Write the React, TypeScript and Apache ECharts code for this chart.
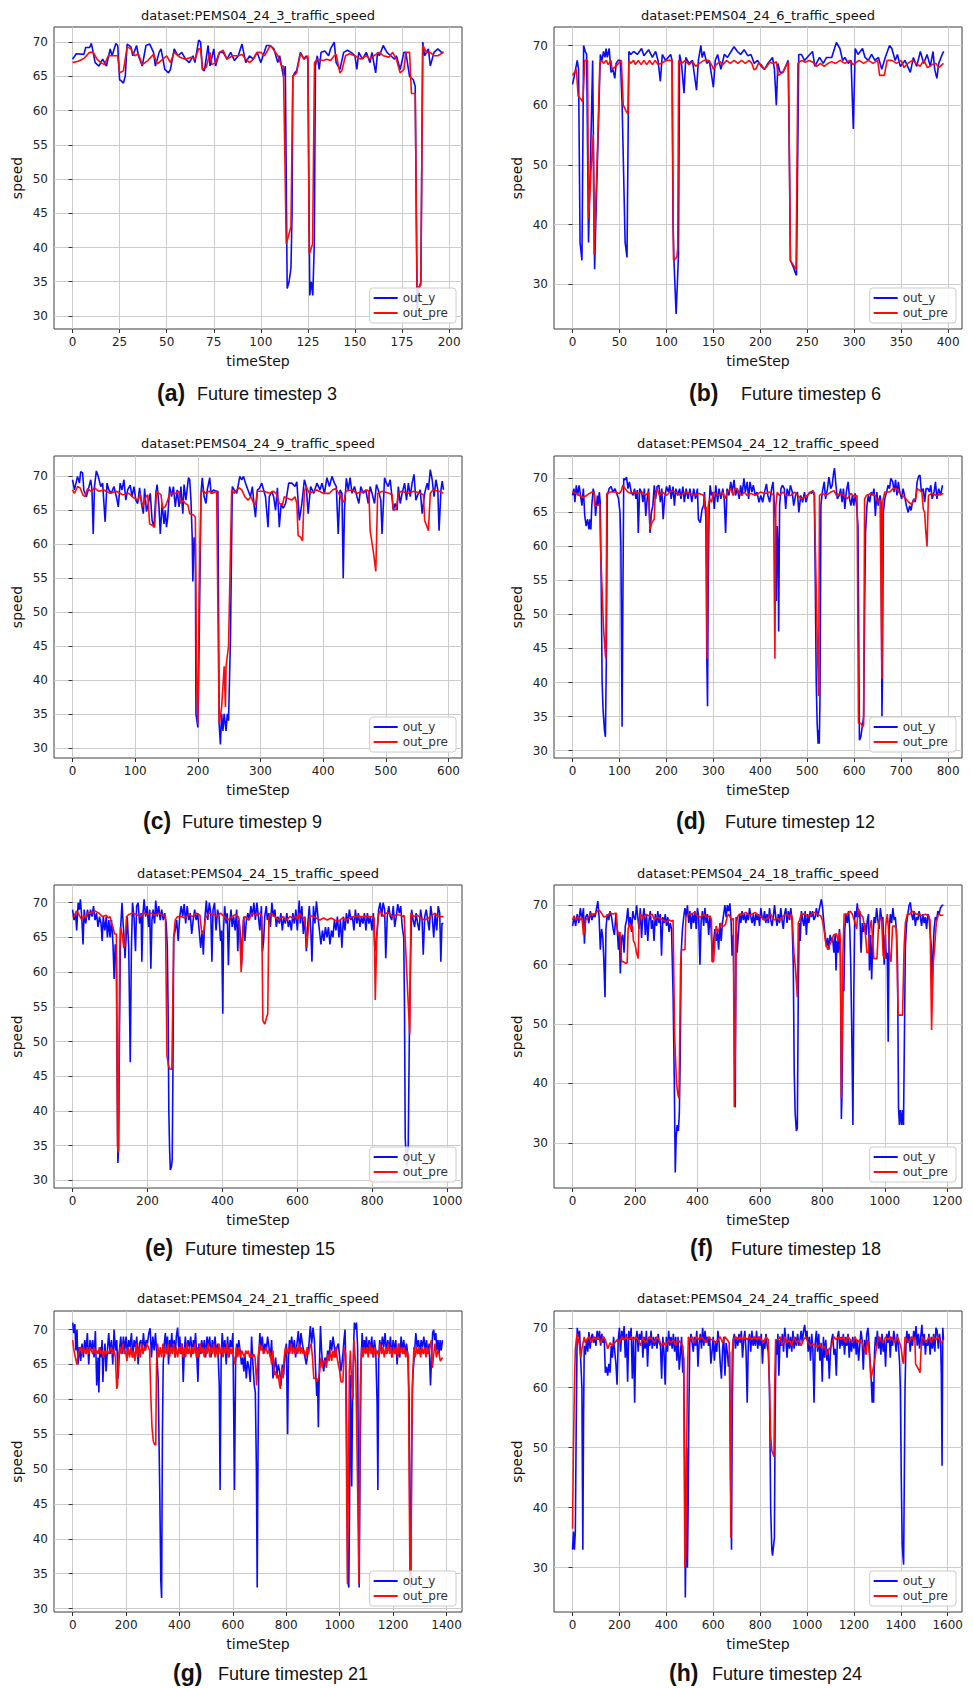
import React, { useEffect, useRef } from "react";
import * as echarts from "echarts";

// ---------------- data ----------------
const seriesNames = ["out_y", "out_pre"];
const xAxisName = "timeStep";
const yAxisName = "speed";

const titles = [
  "dataset:PEMS04_24_3_traffic_speed",
  "dataset:PEMS04_24_6_traffic_speed",
  "dataset:PEMS04_24_9_traffic_speed",
  "dataset:PEMS04_24_12_traffic_speed",
  "dataset:PEMS04_24_15_traffic_speed",
  "dataset:PEMS04_24_18_traffic_speed",
  "dataset:PEMS04_24_21_traffic_speed",
  "dataset:PEMS04_24_24_traffic_speed",
];
const captionLetters = ["(a)", "(b)", "(c)", "(d)", "(e)", "(f)", "(g)", "(h)"];
const captionTexts = [
  "Future timestep 3",
  "Future timestep 6",
  "Future timestep 9",
  "Future timestep 12",
  "Future timestep 15",
  "Future timestep 18",
  "Future timestep 21",
  "Future timestep 24",
];

const xTicksA = [0, 25, 50, 75, 100, 125, 150, 175, 200];
const xTicksB = [0, 50, 100, 150, 200, 250, 300, 350, 400];
const xTicksC = [0, 100, 200, 300, 400, 500, 600];
const xTicksD = [0, 100, 200, 300, 400, 500, 600, 700, 800];
const xTicksE = [0, 200, 400, 600, 800, 1000];
const xTicksF = [0, 200, 400, 600, 800, 1000, 1200];
const xTicksG = [0, 200, 400, 600, 800, 1000, 1200, 1400];
const xTicksH = [0, 200, 400, 600, 800, 1000, 1200, 1400, 1600];
const yTicks5 = [30, 35, 40, 45, 50, 55, 60, 65, 70];
const yTicks10 = [30, 40, 50, 60, 70];

const aOutY = [[0,67.5],[2,68.3],[6,68.2],[7,69.2],[9,69.2],[10,69.8],[12,67],[14,66.5],[16,67.5],[18,66.5],[20,69],[21,68],[23,69.8],[24,69.5],[25,64.5],[26,64.3],[27,64],[28,65],[29,69.7],[31,69.3],[32,68],[34,69.5],[35,68],[37,66.5],[39,69.5],[41,69.7],[43,68.5],[44,66.5],[46,68.5],[47,69],[49,66],[51,65.5],[52,66],[54,69],[56,68],[58,68.5],[60,67.5],[62,67],[64,68],[65,67],[67,70.3],[68,70],[69,66],[70,65.8],[72,69.5],[73,66.5],[75,69],[76,66.5],[78,68.5],[80,68.5],[82,67.5],[84,68.5],[86,67.3],[88,68],[90,69.7],[92,67],[94,68],[96,67.5],[98,68.5],[100,67],[103,69.5],[105,69.5],[107,69],[109,67],[110,68],[112,65],[113,66.5],[114,34],[115,35],[116,37],[116.6,45],[117,65],[118,65.5],[119,65.8],[121,68.5],[123,67.5],[124,68],[125,67.5],[126,33],[126.8,35],[127.6,33],[128.4,40.5],[129,66.5],[130,68],[131,66],[132,68.5],[134,68.7],[136,68],[137,69],[139,70],[140,67],[142,66],[144,68.5],[146,68.8],[148,68.5],[150,68],[151,66],[152,68.5],[154,67.5],[156,68.5],[158,67],[159,68.5],[161,65.5],[162,68.5],[163,68],[165,69.5],[167,68.5],[169,68],[171,67.5],[172,68],[174,66],[176,68.5],[177,68.5],[179,65],[181,64.5],[182,63.5],[183,31],[184,34],[185,35],[186,70],[187,68],[189,69],[190,66.5],[192,68.5],[194,69],[196,68.5],[197,68.5]];
const aOutPre = [[0,67],[3,67.2],[6,67.6],[9,68.5],[11,68.5],[13,67.5],[15,67],[17,66.7],[19,68],[22,68],[24,68],[25,65.5],[27,65.8],[29,69.3],[31,69],[33,68],[35,68.3],[37,66.7],[40,67.3],[43,68.2],[45,66.8],[48,67.5],[50,68],[52,67],[54,68.5],[57,67.8],[60,67.5],[63,67.8],[65,67.5],[67,69],[68,69],[69,66],[71,66.3],[73,68.5],[74,66.7],[76,67],[78,68.5],[80,68.8],[82,67.5],[85,68],[88,68],[90,68.2],[92,67.5],[94,67],[96,67.5],[98,68.5],[100,68.5],[102,68],[105,69.5],[107,68.8],[109,68],[111,66.5],[112,66.5],[113.5,40.5],[116,43],[117,65],[119,65.5],[121,68.3],[123,67.5],[125,68],[125.7,39],[127.5,40.5],[128.5,67],[130,67.5],[133,67.3],[135,67.5],[137,67.3],[139,68],[140,68.2],[142,65.5],[143,65.8],[145,68],[147,68.3],[150,68],[153,67.5],[156,68],[158,67.5],[160,68],[163,68.5],[165,68],[168,67.8],[170,68.5],[172,67.5],[174,65.5],[176,66],[177,68.5],[179,68.5],[180,62.5],[182,62.5],[183,34],[185,34.5],[186,69.5],[188,68.5],[190,68.5],[192,68],[194,68],[197,68.5]];

const bOutY = [[0,63.5],[2,65],[5,67.5],[6.4,66],[8,37],[10,34],[11.8,70],[13.5,69],[15,68.5],[17,37],[19,50],[21.4,67.5],[23.5,32.5],[25.5,45],[27.8,58],[29.6,68.5],[31.4,67.5],[33,69],[34.5,68],[35.7,69.5],[37,68],[39,69.5],[41,65.5],[43,66],[45,64.5],[46.4,67],[48.5,67.5],[51,67.5],[52.8,60],[56,37],[58,34.5],[60,69],[62,68.5],[65,69],[69,68.5],[73.5,69.5],[76,68.3],[81,69.3],[85,68],[88.5,69],[91,67.5],[93.5,64],[95.6,68.5],[99,67.5],[104.5,68.5],[106,67.5],[107,40],[108,34],[109,30],[110.3,25],[111.6,30],[112.8,35],[114,68.5],[116,67],[118.7,62],[120.6,68],[124,67],[127.7,67.5],[132,62.5],[134,67.5],[136.7,70],[138,68],[140,69],[143,67],[145.6,67.5],[150,63],[152,67.5],[154.5,68.5],[158,66],[161.6,68.5],[165,68],[168.8,69],[172,69.8],[175.6,69],[179,68.5],[182.7,69.3],[186.6,68.3],[190,68.5],[193.5,67],[197,67.5],[201,66.5],[204.5,66],[208,67],[213,68],[215,66],[217,60],[218.7,67],[221,65.5],[224,65.5],[227,66.5],[229.6,67.5],[231,50],[232,34],[234.8,33],[237,32],[238.5,31.5],[240.9,68.5],[243.7,68.5],[247,67.5],[252.6,68.5],[255.6,69],[258,66.5],[263,68],[267,67],[270.5,68],[276,68],[281,70.5],[284.7,69.5],[287.6,67.5],[290,68],[293.6,67],[296.6,67.5],[299,56],[301,69.5],[304,68.5],[308.8,69.5],[311.5,68],[315,67.5],[318.5,68.5],[322,67.5],[325.8,68],[329.3,66],[333,68],[337.6,70],[340,69.5],[343.6,67.5],[346,68.5],[349,66.5],[354,67.5],[359.7,65.5],[363,68],[366.5,66.5],[370.4,69],[374,67],[377.5,68.5],[381,66.5],[383.9,69],[385.7,66],[388,64.5],[390,67],[393.6,68.5],[395.4,69]];
const bOutPre = [[0,65],[4,66],[6,61.5],[9,61],[11,60.5],[13,67.5],[16,67.5],[17,41],[20,50],[22,55],[23,35],[25,45],[27,55],[29,67],[31,67.5],[33,67],[36,67.5],[38,66.8],[41,67.5],[42,66],[46,66.5],[49,67],[52,67.5],[54,60],[57,59],[59,58.5],[60,67.5],[62,67],[65,67.5],[67,66.8],[70,67.5],[73,66.8],[76,67.5],[79,66.8],[82,67.5],[85,66.8],[88,67.5],[91,66.8],[94,67],[100,67.5],[106,67.5],[107.5,34],[111,34.5],[112,36],[113,67.5],[116,67],[120,67.5],[124,66.8],[128,67.3],[131,66.5],[135,67],[140,67.5],[145,67.5],[149,66.5],[150,66],[153,66.8],[157,67.3],[160,66.8],[164,67.5],[168,67],[172,67.5],[176,67],[180,67.5],[184,67],[188,67.5],[191,67],[193,66],[195,66],[198,67],[201,66.8],[204,66],[207,66.5],[210,67.2],[214,67],[217,67.3],[219,65],[224,65.5],[227,66.5],[230,67.2],[232,34],[236,33],[238,32.5],[240,67],[244,67.5],[248,67.2],[252,67.5],[256,67.2],[260,66.5],[264,67],[268,66.5],[272,67],[276,67.3],[280,67],[285,67.5],[290,67],[295,67.5],[299,66.8],[305,67.5],[310,67],[315,67.5],[320,67],[325,67.5],[327,65],[332,65],[335,67.5],[340,67.5],[345,67],[350,67.5],[353,66.3],[357,67],[362,67.5],[366,67],[370,66.5],[374,67.5],[378,66.3],[383,66.8],[387,67],[390,66.3],[395,67]];

const cOutY = [[0,69.5],[3,68],[8,70],[11,69],[13,70.7],[16,70.5],[18,68],[22,67],[25,68],[29,69.5],[31,68],[33,61.5],[35,68.5],[38,70.8],[41,70],[45,68.5],[48,69],[52,63.3],[55,69],[58,68],[62,67.5],[66,68.5],[70,67],[73,65.5],[76,69],[79,68],[82,69.5],[85,66.5],[88,68],[92,68.7],[95,67],[98,68.5],[101,66.5],[104,66],[107,68.3],[110,66],[113,64.5],[115,68.2],[118,64.8],[121,66],[124,67.5],[127,63.5],[130,62.5],[133,67.5],[135,68.8],[138,65.5],[140,61.5],[143,66],[146,63],[148,65],[150,62.5],[152,64],[155,68.5],[158,67],[161,68.5],[164,65.5],[167,68],[170,65.5],[173,68.5],[176,64.5],[178,68.8],[181,66.5],[185,69.8],[187,69.5],[189,66.5],[191,61],[192,54.5],[194,61],[196,60],[197,35],[200,33],[202,45],[205,67.5],[207,69.8],[210,67],[213,66],[215,68],[219,69.8],[221,67.5],[225,68],[229,67.8],[232,67.8],[234,33.5],[236,30.5],[238,35],[240,32.5],[242,35],[245,32.5],[247,35],[249,34],[252,46],[255,68.5],[258,68],[262,67.5],[267,70],[270,69.5],[273,70],[276,69],[280,68],[284,67],[287,68.5],[290,65.5],[292,64],[295,68],[298,68.2],[302,69],[305,68],[308,67],[312,62.5],[314,67],[318,67.8],[321,67],[324,65],[327,68.3],[330,62.5],[333,66],[336,65.3],[340,66],[345,69],[350,69],[355,68.5],[358,69.2],[362,63.5],[366,66],[370,69.5],[373,68.5],[376,64.5],[380,68.5],[385,67.5],[390,69],[395,68],[398,69],[402,67.5],[406,69.8],[410,68.5],[414,70],[418,69],[421,68.5],[424,61.5],[427,68],[430,67.5],[432,55],[434,65],[437,69.7],[440,68],[443,69.8],[446,67.5],[450,68.5],[454,67],[457,66],[460,68.5],[464,67.5],[468,68],[472,66],[475,68.5],[478,67.5],[482,66],[485,68.8],[488,68],[492,66.5],[494,61.5],[498,69.8],[501,69],[504,68.5],[507,69.5],[512,65],[515,66],[518,65],[520,68.5],[523,66],[526,67.5],[530,69],[533,66.5],[536,69],[539,67],[542,69],[545,70.3],[548,66.5],[552,67.5],[555,68],[558,64.5],[562,67.5],[566,69],[568,68],[571,71],[574,69.5],[577,67],[580,69.5],[583,68],[585,62],[588,68],[590,69.3],[592,68]];
const cOutPre = [[0,68],[3,67.5],[8,68.5],[12,68.3],[17,67.2],[20,67],[24,68.2],[30,67.8],[35,68.3],[42,67.8],[50,68],[60,67.5],[70,67.8],[80,67.3],[90,67.5],[98,66.8],[105,66.5],[108,67.5],[112,65.5],[116,66.8],[120,67.3],[123,63],[127,62.8],[131,62.5],[134,67.8],[138,67.5],[141,67.3],[144,65.3],[148,65.5],[150,66],[152,66.5],[155,67.5],[160,67.5],[165,67.5],[170,67.8],[172,66],[176,66.5],[180,66],[184,65.8],[187,64.5],[193,64.3],[196,64],[198,40],[200,33.5],[202,52],[205,67.5],[208,68],[212,67.5],[218,67.8],[223,67.5],[230,67.8],[234,33.5],[238,36],[242,42],[244,36],[245,42],[249,45],[254,68],[258,67.5],[262,68],[266,68.3],[270,68],[275,67],[280,66.5],[285,67],[289,66],[292,65.8],[295,67.8],[305,67.8],[315,67.5],[320,67.8],[325,67.5],[330,66],[335,65.8],[338,67],[342,66.8],[350,66.5],[355,67],[358,66],[360,61.3],[364,61],[367,60.5],[370,67.8],[373,68.5],[378,67.5],[385,67.8],[390,68],[400,67.5],[410,67.5],[415,68],[420,68.2],[425,67.5],[430,66.5],[433,66.2],[436,67.8],[445,68],[455,67.5],[465,67.8],[470,68],[473,67.8],[475,62],[480,59],[484,56],[487,67.5],[495,67.8],[505,67.5],[510,67.3],[512,65],[517,65.2],[520,67.5],[525,67.8],[535,67.5],[545,67.8],[555,67.5],[560,67.3],[562,63.5],[566,62.5],[568,62],[571,67.5],[575,68],[585,67.8],[592,67.5]];

const dOutY = [[0,67.5],[3,68.5],[5,66.5],[8,69],[11,67.5],[14,69],[17,67.5],[20,66],[23,68.5],[26,64.5],[29,63],[32,64],[35,62.5],[37,64],[39,62.5],[41,66],[44,68.5],[47,67.5],[49,64.5],[51,66],[53,67.5],[55,66],[57,68],[59,66.5],[61,55],[63,40],[65,36],[68,33],[70,32],[72,43.5],[74,67.5],[78,68.5],[82,68.8],[86,68],[90,68.5],[94,67.8],[98,67],[101,65],[103,60],[105.5,33.5],[107,50],[109,70],[112,69.8],[115,70.2],[118,68.5],[121,69.5],[125,68],[129,67.5],[132,68.5],[135,67],[138,68.3],[140,62],[143,68.5],[147,68],[150,66.5],[153,68.5],[156,64.5],[159,67],[162,68.5],[165,62],[168,65],[171,66],[174,69],[177,67],[180,68.8],[184,69],[187,66.5],[190,68.5],[193,64],[196,67],[200,68.8],[204,68],[207,69],[210,67],[214,68.8],[217,66],[220,68.5],[224,67.5],[228,68.5],[231,67],[235,68.8],[238,66.5],[242,68.5],[246,67],[250,68.5],[254,66.5],[258,68.5],[262,67],[266,68.5],[268,64],[272,63.5],[276,65.5],[279,66],[281,68],[284,64],[286,43.5],[287.5,36.5],[289,55],[291,66],[293,69],[296,67.5],[299,68],[302,65.5],[305,69],[309,66.5],[312,68.5],[316,67],[320,68.5],[323,67],[326,62],[329,68.5],[333,67.5],[337,69.5],[340,68],[344,69.8],[347,67.5],[351,68.5],[355,67],[358,69],[361,67.5],[365,70],[368,68],[372,69.5],[375,67],[378,69.5],[382,68],[385,69],[389,67.5],[393,68],[397,66.5],[401,67.5],[405,66.5],[409,68],[413,69.2],[416,67.5],[420,66.5],[424,68.5],[427,69.5],[430,66],[432,63.5],[434,52],[436,63],[438,59],[439,47.5],[441,66],[444,68.5],[447,69],[451,68.5],[454,65.5],[457,68.5],[461,67.5],[464,69],[468,68],[471,66],[475,67.5],[479,68],[482,65],[486,67.5],[490,66.5],[494,68],[497,66.5],[501,67.5],[505,68],[509,67.8],[512,68.2],[515,67.5],[517,55],[519,40],[521,34],[523,31],[524,33],[525.5,31],[527,37.5],[529,66],[532,68],[536,69.5],[539,67],[543,68.5],[546,70.2],[550,68.5],[553,69],[556,70.8],[558,71.5],[561,69],[564,67],[568,67.5],[571,68.5],[574,66.5],[577,68.5],[580,65.5],[583,68],[587,69.5],[590,67],[593,66],[596,67.5],[599,66],[602,67.8],[605,66],[608,63],[611,31.5],[614,32],[617,33.5],[620,35],[622,50],[624,62],[627,66],[630,67.5],[633,66.5],[636,68],[639,67.5],[642,68.5],[645,64.5],[648,68],[651,66],[655,67.5],[657,66.5],[659,35],[660,40],[662,65],[665,67],[669,68],[672,69],[675,68.5],[678,70],[682,69.5],[685,68],[688,69.8],[691,67.5],[694,69.5],[697,68],[701,67],[704,68.5],[707,67.5],[711,66],[715,65],[718,66],[721,65.3],[724,66.5],[727,67],[730,66.5],[734,69.5],[737,70.3],[740,70.5],[743,68],[747,68.5],[750,66.5],[753,68.5],[757,68.5],[760,68],[763,69],[766,67],[770,68],[773,69.5],[776,67],[780,68.5],[784,67.5],[788,69]];
const dOutPre = [[0,68],[8,67.8],[15,67.5],[22,67.2],[30,67.5],[36,67.8],[42,68],[46,67.8],[47,66],[52,66],[58,66.2],[59.5,60],[66,48],[70,44],[71,43.5],[73,67.8],[80,68],[90,68],[100,67.8],[104,68.2],[107,69],[112,68.5],[118,68],[125,67.8],[132,68],[140,67.8],[148,68],[155,67.5],[162,68],[165,62.5],[169,63.5],[174,64],[176,67.5],[180,68.5],[185,67.5],[192,68],[200,67.5],[210,68.2],[220,68],[230,67.5],[240,68],[250,67.8],[260,67.5],[270,67.8],[280,67.5],[281,65.5],[285,65.8],[286.5,43.5],[289,66],[292,67],[296,66.5],[300,68],[310,67.5],[320,68],[325,67],[330,68],[337,68.5],[342,67.5],[346,68.5],[350,68.5],[355,67.8],[360,67.5],[366,68],[372,67.5],[380,67.8],[390,67.5],[400,68],[410,67.8],[420,68],[428,67.5],[431,43.5],[433,66],[436,68],[440,67.5],[448,68],[455,67.5],[465,67.5],[473,68],[480,67.5],[487,67],[495,67.3],[500,67.5],[507,68],[512,68.2],[515,67.8],[520,50],[524,38],[526,67.5],[532,67.8],[540,67.5],[550,68],[557,68.2],[562,67.5],[570,67.8],[578,67.5],[585,67],[593,67.8],[600,67.3],[606,67.5],[609,34],[614,34],[618,33.5],[620,33.8],[622,67],[626,67.5],[635,67.8],[645,67.5],[650,66.5],[655,66.8],[659,40.5],[661,66.8],[665,68],[675,68],[683,68.5],[690,68.5],[697,67.8],[703,67.5],[710,67],[716,66.5],[722,66.2],[727,66.8],[731,67],[734,68.5],[740,68.2],[744,68],[747,65.5],[750,65],[752,62.5],[755,60],[758,67.5],[765,67.8],[775,67.5],[790,67.8]];

const eOutY = [[0,69],[4,67.5],[8,68.5],[11,66],[15,70],[18,69],[21,70.5],[25,67.5],[28,64],[31,69],[35,67],[40,69],[44,67.5],[48,69],[52,68],[56,69.5],[60,67.5],[64,68.5],[68,66.5],[72,68],[76,67],[79,64.5],[82,68],[86,66],[90,68],[93,65],[97,67.5],[100,65],[104,67.5],[108,64],[111,59],[114,64],[117,62],[119,46],[121,32.5],[123,34.5],[125,50],[128,66],[132,70],[135,67],[138,64.5],[140,62],[143,65],[146,68],[150,63.5],[154,47],[157,63],[160,70],[164,68],[168,63],[171,69.5],[175,70],[179,67],[183,68.5],[185,61.5],[188,68.5],[191,70.5],[195,68],[199,69.5],[203,66.5],[206,69],[209,60.5],[212,67.5],[215,69],[219,67],[222,70.3],[226,68],[230,69.5],[234,67.5],[238,69],[242,67.5],[246,68.5],[250,67],[253,63.5],[255,55],[257,40],[259,34.5],[261,31.5],[264,32],[266,33],[268,46],[270,65],[274,66],[278,67.5],[282,64.5],[286,68],[290,69.5],[294,68],[298,69.8],[302,67],[306,69.5],[310,67.5],[314,68.5],[318,65.5],[322,67.5],[326,69],[330,67.5],[334,68.5],[338,66],[342,63.5],[346,66],[349,62.5],[353,67.5],[357,70.3],[361,67.5],[365,70],[369,68.5],[372,61.5],[375,69],[379,70],[383,66],[387,69],[391,68],[395,64.5],[398,66],[401,54],[403,66],[406,69.5],[410,67],[413,68.5],[416,61],[419,67],[423,69],[426,66.5],[430,68],[434,66],[438,69],[441,63],[444,67.5],[448,65.5],[451,61],[454,65.5],[457,68],[460,64.5],[464,67.5],[468,68.5],[472,67.5],[476,69.5],[480,68],[484,70],[488,67.5],[492,70],[496,68],[500,66],[504,69.5],[507,63],[510,64.5],[513,68],[517,69.5],[520,67.5],[524,68.5],[528,66.5],[532,70],[536,68],[540,69],[544,66.5],[548,68],[552,67],[556,68.5],[560,66],[564,68],[568,67],[572,68.5],[576,66.5],[580,67.5],[584,66],[588,68.5],[592,67],[596,69],[600,66],[605,70.3],[608,67],[612,69.5],[616,65.5],[620,68],[624,63],[628,67],[632,69.5],[636,66],[639,61.5],[643,69.5],[647,67],[651,70.2],[655,68],[659,66],[663,64],[667,66],[671,64.5],[675,66.5],[679,65],[683,66.5],[687,64],[691,66],[695,65],[699,67.5],[703,66],[707,68],[711,65],[715,67.5],[719,63.5],[723,68],[727,66],[731,68.5],[735,67],[739,69],[743,67.5],[747,68],[751,66],[755,69],[759,67],[763,68.5],[767,66.5],[771,68],[775,67],[779,68.5],[783,66],[787,68.5],[791,67],[795,68],[799,66],[803,68.5],[807,63],[810,64],[813,66],[817,69],[821,70],[825,68],[829,70],[833,69],[836,62],[840,68],[844,69.5],[848,68],[852,67.5],[856,69.5],[860,66.5],[864,68],[868,69.8],[872,68.5],[876,69.5],[880,66.5],[884,65],[886,55],[888,36],[892,32],[896,35],[899,51],[902,61.5],[905,69],[909,67.5],[913,66.5],[917,68.5],[921,67],[925,66],[929,69],[933,67.5],[936,62.5],[940,68],[944,69],[948,67.5],[952,66],[956,69.5],[960,68],[964,65],[968,68.5],[972,66],[976,69.5],[980,68.5],[983,61.5],[986,67],[990,67]];
const eOutPre = [[0,68],[5,68],[10,68.8],[15,68.5],[20,68],[25,67.5],[30,68.2],[35,67.8],[40,68.5],[50,68.5],[60,68.8],[70,68.5],[80,68],[90,68.2],[95,67.8],[100,68],[104,67],[108,66.5],[112,65.5],[117,65.5],[120,35],[122,34],[124,48],[126,63],[128,66.5],[132,65.5],[137,63.5],[140,64],[144,68],[150,68.3],[160,68.5],[170,68.3],[180,68],[190,68.5],[200,68.3],[210,68.5],[220,68.2],[230,68.5],[240,68.2],[248,68],[252,48],[256,46.5],[260,46],[265,46],[270,65],[274,67.5],[280,68],[290,68],[300,67.8],[310,68.3],[320,68],[330,68.5],[340,68.2],[345,65.5],[350,65.8],[355,67.8],[365,68.5],[375,68.3],[385,68],[395,68.5],[405,68],[415,67.5],[425,68],[435,68.3],[442,68],[445,67.5],[450,60],[453,63],[456,67.5],[460,68],[470,67.5],[480,68.5],[490,68.2],[500,68.5],[505,68],[508,53],[513,52.5],[518,53.5],[521,54],[524,68],[530,68.5],[540,68],[550,67.5],[560,68],[570,67.5],[580,68],[590,67.8],[597,68],[601,67.5],[605,68.5],[612,68],[618,67.8],[622,66.5],[625,63.5],[629,66],[633,68.2],[640,68],[650,67.8],[660,67.5],[670,67.8],[680,67.5],[690,67.8],[700,67.5],[710,67.3],[720,67.8],[730,67.5],[740,67.8],[750,68],[760,68],[770,68],[780,68],[790,68],[800,68],[805,67.8],[808,56],[812,65],[816,68],[820,68.8],[825,68.5],[830,68],[835,68.5],[845,68.5],[855,68],[865,68.3],[875,68.2],[882,68],[885,68.2],[892,60],[900,51],[903,68.5],[910,68],[920,68.2],[930,67.8],[940,67.5],[950,67.8],[960,68.2],[968,68.5],[975,68],[990,68]];

const fOutY = [[0,66.5],[5,68],[10,66.5],[15,68.5],[20,67],[25,69.5],[30,67.5],[35,69.5],[38,63.5],[42,68],[47,68.5],[52,67],[57,69],[62,67.5],[67,68.5],[72,68],[77,69.5],[81,70.7],[85,68],[89,62.5],[93,66],[97,64.5],[100,61],[104,54.5],[107,66],[111,68.5],[116,67.5],[120,69],[125,68],[130,66],[134,65],[139,68.5],[143,66],[147,62.5],[150,65],[153,58.5],[157,64.5],[161,65],[165,62],[169,66.5],[173,67.5],[177,69.5],[181,66.5],[185,68],[189,65.5],[193,69],[197,68],[201,67.5],[205,70],[209,68],[213,66],[217,69.5],[221,64.5],[225,68],[229,69.5],[233,65],[237,68.5],[241,64],[245,67.5],[249,69],[253,66],[257,67.5],[261,64],[265,68.5],[269,66.5],[273,69],[277,67],[281,68.5],[285,61.5],[289,68],[293,67],[297,68.5],[301,66.5],[305,68],[309,65.5],[313,67],[317,66],[322,55],[326,40],[329,25],[332,31],[335,33],[339,32],[342,35],[345,45],[348,62],[352,66],[356,68],[360,69.5],[364,68],[368,70],[372,67],[376,69],[380,66],[384,68.5],[388,67],[392,69],[396,66],[400,69.5],[404,68],[408,60],[412,67.5],[416,69],[420,66.5],[424,69.5],[428,67],[432,68.5],[436,65],[440,68],[444,66],[448,60.5],[452,64],[456,66],[460,64],[464,65.5],[468,62.5],[472,67],[476,64],[480,67],[484,68.5],[488,70],[492,68],[496,70],[500,69],[504,70.3],[508,67],[511,61.5],[515,65],[519,46],[521,36],[524,68],[527,62],[531,65],[535,68.5],[539,67],[543,69],[547,67.5],[551,68.5],[555,67],[559,68.5],[563,67.5],[567,69.5],[571,68],[575,67],[579,68.5],[583,66.5],[587,68.5],[591,67.5],[595,68.5],[599,66.5],[603,69.5],[607,68],[611,67.5],[615,69],[619,67],[623,68.5],[627,67],[631,69.5],[635,67.5],[639,66.5],[643,68],[647,70],[651,68],[655,66.5],[659,68.5],[663,67],[667,69.5],[671,67.5],[675,66],[679,68.5],[683,69.5],[687,67],[691,69],[695,67.5],[699,69.5],[703,67.5],[707,60],[710,42],[713,35],[717,32],[720,32.5],[723,55],[726,67],[729,64],[733,69],[737,67.5],[741,66.5],[745,69],[749,65],[753,68.5],[757,67],[761,69],[765,68],[769,69],[773,67.5],[777,68],[781,69.5],[785,68],[789,69],[793,70],[797,71],[801,69.5],[805,67],[809,65],[813,63],[817,64.5],[821,62.5],[825,65],[829,64],[833,64.5],[837,62],[841,65],[844,59],[847,64],[851,62],[855,66],[858,61],[861,34],[863,38],[866,56],[869,55.5],[872,66],[876,68.5],[880,67],[884,69],[888,66],[891,60],[894,50],[898,33],[901,56],[904,69],[908,68],[912,70.3],[916,68],[920,69],[924,62],[928,67],[932,65.5],[936,67],[940,65],[944,67.5],[948,68.5],[951,59],[955,65],[958,57.5],[962,64.5],[966,68],[970,67],[974,69.5],[978,67.5],[982,66],[986,69.5],[990,67.5],[994,68],[998,60],[1002,65],[1005,61],[1008,62],[1011,47],[1014,66],[1018,68.5],[1022,67],[1026,69.5],[1030,67.5],[1034,68],[1038,65],[1041,60],[1044,36],[1047,33],[1050,35.5],[1054,33],[1057,35.5],[1060,33],[1063,48],[1066,63],[1070,67],[1074,68.5],[1078,70],[1082,70.5],[1086,68.5],[1090,67.5],[1094,69],[1098,66.5],[1102,68],[1106,67.5],[1110,69],[1114,68],[1118,66.5],[1122,68.5],[1126,67],[1130,68],[1134,66],[1138,68.5],[1142,68],[1146,65],[1149,63],[1152,56],[1155,62],[1158,66],[1162,68],[1166,67.5],[1170,69],[1174,68.5],[1178,69.5],[1184,70],[1188,70]];
const fOutPre = [[0,67.5],[5,68.2],[10,67.5],[18,68],[25,67.5],[30,68],[35,65],[38,65.5],[42,67.5],[50,68],[60,68.5],[70,68.5],[80,69],[85,69.2],[95,68.5],[100,68],[110,68.2],[120,68.7],[130,68.5],[140,68.7],[143,66],[148,65],[152,65.5],[157,60.5],[162,60.5],[170,60.2],[175,60.3],[178,66],[183,67],[187,66],[192,66.5],[195,64],[200,63.5],[205,62],[210,61],[213,67],[218,68.5],[225,67.8],[235,68.5],[245,68.2],[255,68.5],[262,67.5],[270,68],[280,67.8],[290,67.5],[300,67.2],[310,67.5],[318,67.3],[322,67.5],[327,48],[333,40],[338,38],[341,37.5],[346,60],[349,62.5],[360,62.5],[363,68],[370,68.5],[380,68.5],[390,68.8],[400,68.2],[410,68],[420,68.5],[430,68],[440,68.2],[445,67.5],[447,60.5],[452,60.5],[456,64],[460,66.5],[465,65.5],[470,66],[475,67],[480,66.5],[485,66.5],[490,66.8],[495,68],[500,68.5],[505,68],[510,67.5],[515,67.8],[518,36],[521,45],[524,66],[528,68],[535,68.5],[545,68.5],[555,68.8],[565,68.3],[575,68.5],[585,68.8],[595,68.3],[605,68],[615,67.5],[625,67.8],[635,68.5],[645,67.5],[655,67.8],[665,67.5],[675,68.2],[685,68.5],[695,68],[700,68.5],[704,67.8],[709,62],[713,60],[717,57],[720,54.5],[723,67],[727,67.5],[733,68.5],[745,68.5],[755,68],[765,68.5],[775,68.8],[785,68.5],[795,68.2],[800,67.5],[805,66],[810,64],[814,63],[818,62.5],[825,63.5],[830,64],[836,65],[845,65.2],[850,64],[855,65.5],[858,64],[861,37.5],[864,50],[866,62],[870,68.5],[880,68.5],[890,69],[896,68.5],[900,67.8],[905,67],[910,66],[915,69.5],[922,68.5],[930,68],[936,66],[940,64],[943,62],[948,62],[952,66],[957,67.5],[965,61],[975,61],[980,66.5],[985,68],[990,67.5],[995,61.5],[1000,61],[1003,66.5],[1008,68.5],[1012,66],[1016,61],[1020,60.5],[1025,66.5],[1032,66.5],[1037,66],[1043,51.5],[1050,51.5],[1057,51.5],[1062,63],[1066,67],[1072,68.5],[1080,68.5],[1090,69],[1100,68.5],[1110,68.5],[1120,68.2],[1130,68.5],[1140,68.2],[1145,67.5],[1150,49],[1155,60],[1160,63],[1165,67],[1172,68.5],[1180,68.3],[1188,68.3]];

const gOutY = [[0,71],[4,69.5],[8,70.8],[12,67],[16,70],[20,65],[25,67.5],[30,65.5],[35,68],[40,66],[45,68.5],[50,67],[55,69.5],[60,65],[65,68.5],[70,67],[75,68.5],[80,66],[85,69.8],[90,62],[95,66],[98,61],[102,67.5],[106,66],[110,68.5],[113,62.5],[117,66.5],[121,68],[125,64],[130,67],[135,69.5],[140,66.5],[145,68.5],[150,65],[155,70],[160,67],[165,68.5],[170,63],[175,67],[180,69],[185,66.5],[190,69],[195,67],[200,69],[205,66.5],[210,68.5],[215,67.5],[220,69.5],[225,66],[230,68.5],[235,67.5],[240,69],[245,65],[250,68],[255,68.5],[260,67],[265,69.5],[270,67],[275,68.5],[280,68],[285,69.5],[290,70.2],[295,66],[300,69],[305,67],[310,69.5],[315,66.5],[320,63],[326,47],[330,34],[333,31.5],[336,55],[339,65],[343,68],[347,69.5],[351,67],[355,69],[359,65],[363,68.5],[367,67],[371,69.5],[375,67],[380,68.5],[384,66],[388,69],[393,70.3],[397,67.5],[401,69],[405,66.5],[410,68],[414,62.5],[418,67],[422,69],[427,66.5],[432,68.5],[437,67.5],[442,69],[447,66.5],[452,68.5],[456,67.5],[460,69.5],[465,66],[469,62.5],[473,68],[478,66.5],[483,68.5],[488,67],[493,68.5],[498,66],[503,69],[508,67.5],[513,69],[518,66],[523,68.5],[528,67],[533,69],[538,66.5],[543,68],[549,62],[552,47],[556,66],[560,69.5],[565,67],[570,68.5],[575,65],[580,69],[585,66],[590,68.5],[595,67.5],[600,69.5],[606,47],[610,65],[614,68],[618,66.5],[622,68.5],[627,67],[632,65],[637,66],[641,64],[645,66.5],[650,63],[655,65.5],[660,64.5],[665,62.5],[670,69],[675,65],[680,62],[684,61],[688,50],[691,33],[694,52],[697,66],[701,69.5],[705,67.5],[710,69],[715,66.5],[720,68],[725,67],[730,69],[735,67.5],[740,66],[745,68.5],[750,63],[755,64.5],[760,66],[765,63.5],[770,65],[775,64],[780,62],[785,65],[790,63.5],[795,66.5],[800,68],[805,55],[808,66],[812,68.5],[816,67],[820,69],[825,67],[830,68.5],[835,66],[840,68],[845,69.8],[850,67],[855,69.5],[860,68],[865,67],[870,66],[875,65],[880,66.5],[885,68],[890,70.5],[895,68],[900,70.3],[905,68.5],[910,64],[914,60.5],[917,63],[920,56],[924,65],[928,70.5],[932,67],[936,65],[940,64],[945,66],[950,65],[955,67],[960,66],[965,68.5],[970,67],[975,69],[980,67.5],[985,66],[990,67.5],[995,68],[1000,66],[1004,64],[1008,65],[1012,66.5],[1016,68.5],[1020,70],[1024,63],[1026,55],[1030,34],[1034,33],[1037,45],[1040,63.5],[1045,47.5],[1048,60],[1052,67.5],[1055,71],[1059,70],[1063,71],[1067,67.5],[1070,50],[1073,33],[1076,50],[1080,65],[1084,69.5],[1088,66.5],[1092,68.5],[1096,67],[1100,69],[1105,66.5],[1110,68.5],[1115,67],[1120,69],[1125,66],[1130,68.5],[1135,67],[1140,59.5],[1143,47],[1146,66],[1150,68.5],[1155,67],[1160,69],[1165,67.5],[1170,69.5],[1175,66.5],[1180,68.5],[1185,67],[1190,69],[1195,66],[1200,68.5],[1205,67],[1210,68.5],[1215,65],[1220,68],[1225,66],[1230,69],[1235,67],[1240,68.5],[1245,66.5],[1250,68],[1255,66.5],[1260,60],[1263,40],[1266,33],[1269,50],[1272,61.5],[1275,64],[1280,66.5],[1285,69.5],[1290,67.5],[1295,68.5],[1300,66.5],[1305,68.5],[1310,67.5],[1315,69],[1320,67],[1325,68.5],[1330,66.5],[1335,68],[1340,62],[1344,66],[1348,69.5],[1352,70],[1356,68.5],[1360,69.5],[1364,67],[1368,68.5],[1372,66.5],[1376,68.5],[1380,67],[1385,68.5]];
const gOutPre = [[0,68.5],[5,67],[10,66],[16,65],[20,66.5],[25,67],[30,67.5],[35,66.5],[40,67.5],[45,67],[50,66.5],[55,67.5],[60,66.5],[65,67.5],[70,67],[75,66.5],[80,67.5],[85,66.5],[90,67],[95,66.5],[100,67.5],[105,66.5],[110,67],[115,66],[120,67],[125,66.5],[130,67],[135,66.5],[140,67],[145,67.5],[150,66.5],[155,67],[160,66],[165,61.5],[168,62],[172,66],[177,67.5],[182,66.5],[188,68],[193,66.5],[198,67],[203,65.5],[208,67.5],[213,66],[218,67.5],[223,66],[228,67],[233,65.5],[238,68],[243,66],[248,67.5],[253,66],[258,68],[263,66.5],[268,67.5],[273,67],[278,68],[283,67.5],[288,67],[293,60],[297,56],[302,54],[307,53.5],[311,53.5],[314,65],[318,68],[323,66],[328,67.5],[333,66],[338,68],[343,66],[348,67.5],[353,66.5],[358,68],[363,66],[368,67.5],[373,66.5],[378,68],[383,66],[388,67.5],[393,66],[398,67.5],[403,66.5],[408,68],[413,66],[418,67.5],[423,66],[428,68],[433,66.5],[438,67.5],[443,66],[448,67.5],[453,66.5],[458,68],[463,66],[468,67.5],[473,66],[478,68],[483,66.5],[488,67.5],[493,66],[498,67.5],[503,66.5],[508,68],[513,66],[518,67.5],[523,66.5],[528,68],[533,66],[538,67.5],[543,66],[548,68],[553,66.5],[558,67.5],[563,66],[568,67.5],[573,66.5],[578,68],[583,66],[588,67.5],[593,66.5],[598,67.5],[603,66],[608,65],[613,67.5],[618,66],[623,67.5],[628,66],[633,67],[638,66.5],[643,66],[648,67],[653,66.5],[658,67],[663,66],[668,66.5],[673,66],[678,66.5],[683,66],[689,62],[694,66],[700,68],[705,67],[710,67.5],[715,66.5],[720,67],[725,67.5],[730,66.5],[735,67],[740,66.5],[745,65],[750,67],[755,63.5],[760,64],[765,63],[770,63.5],[775,62],[778,61.5],[783,64.5],[788,63],[792,66],[797,67.5],[803,66.5],[808,67.5],[813,66.5],[818,68],[823,66.5],[828,67.5],[833,66.5],[838,67.5],[843,66.5],[848,68],[853,66.5],[858,67.5],[863,66.5],[868,67],[873,66],[878,67.5],[883,66.5],[888,67.5],[893,68],[898,66],[903,63],[910,63],[915,62.5],[920,63],[925,64],[930,66],[935,64.5],[940,65.5],[945,65.5],[950,64.5],[955,66.5],[960,65.5],[965,67],[970,65.5],[975,67],[980,66],[985,67.5],[990,66],[995,65],[1000,64],[1005,62.5],[1012,62.5],[1017,67.5],[1022,66.5],[1029,33.5],[1036,64],[1040,67],[1045,62],[1050,60],[1053,68.5],[1060,65],[1066,50],[1072,33.5],[1077,62],[1082,67.5],[1087,66],[1092,67.5],[1097,66.5],[1102,67.5],[1107,66],[1112,68],[1117,66.5],[1122,67.5],[1127,66],[1132,67.5],[1137,66.5],[1142,67],[1147,66],[1152,68],[1157,66.5],[1162,67.5],[1167,66],[1172,67.5],[1177,66.5],[1182,68],[1187,66.5],[1192,67.5],[1197,66],[1202,67.5],[1207,66.5],[1212,67.5],[1217,66],[1222,68],[1227,66.5],[1232,67.5],[1237,66.5],[1242,67.5],[1247,66],[1252,67],[1257,66],[1263,34],[1267,36],[1270,55],[1273,63],[1278,67.5],[1283,66],[1288,67.5],[1293,66.5],[1298,67.5],[1303,66],[1308,67.5],[1313,66.5],[1318,67.5],[1323,66],[1328,67.5],[1333,66.5],[1338,67.5],[1343,68.5],[1347,64.5],[1352,66.5],[1357,68],[1362,66],[1367,67],[1372,66.5],[1377,65.5],[1385,66]];

const hOutY = [[0,33],[4,36],[8,33],[12,36],[16,55],[20,70],[25,68.5],[30,69.5],[35,64.5],[40,60],[44,33],[47,55],[50,67],[55,65.5],[60,68],[65,66],[70,69.3],[75,66.5],[80,68.5],[85,69],[90,67.5],[95,68.5],[100,67],[105,69.5],[110,68],[115,69.5],[120,67],[125,69],[130,67.5],[135,68.5],[140,62.5],[145,63.5],[150,62],[155,64],[160,62.5],[165,67],[170,65],[175,68.5],[180,66],[185,64],[190,60.5],[195,68],[200,70],[205,66],[210,69.5],[215,68],[220,70.3],[225,65],[230,69],[235,61],[240,69.5],[245,68],[250,70],[255,61.5],[260,68.5],[265,57.5],[270,68],[275,69.5],[280,66],[285,69],[290,68],[295,69.5],[300,65],[305,68.5],[310,66.5],[315,69.5],[320,63.5],[325,68.5],[330,67],[335,69.5],[340,66.5],[345,68.5],[350,67],[355,68.5],[360,66.5],[365,69],[370,67.5],[375,67],[380,61.5],[385,68.5],[390,66],[395,60.5],[400,68.5],[405,66],[410,69.5],[415,67],[420,68.5],[425,66.5],[430,69],[435,66],[440,68.5],[445,64.5],[450,68.5],[455,63],[460,65.5],[465,68.5],[470,62.5],[474,65],[478,48],[481,25],[484,35],[487,50],[490,30],[493,40],[496,55],[500,67.5],[505,69],[510,67.5],[515,66],[520,68.5],[525,67],[530,69.5],[535,63.5],[540,67.5],[545,69],[550,66.5],[555,70],[560,67],[565,69.5],[570,67.5],[575,68.5],[580,67],[585,68.5],[590,64],[595,66],[600,68.5],[605,64.5],[610,67.5],[615,66],[620,69.5],[625,67.5],[630,64],[635,61.5],[640,66.5],[645,68.5],[650,62],[655,67.5],[660,66],[665,63.5],[670,66],[674,45],[678,33],[681,55],[685,68],[690,69],[695,66.5],[700,68.5],[705,67],[710,69],[715,67.5],[720,69.5],[725,65],[730,68],[735,69.5],[740,66],[745,57.5],[750,68],[755,69],[760,66],[765,69.5],[770,67],[775,68.5],[780,67],[785,69.5],[790,66.5],[795,68.5],[800,67],[805,69],[810,64],[815,68],[820,66.5],[825,69],[830,67],[835,66],[840,60],[845,40],[850,33],[853,32],[857,33.5],[861,35],[864,55],[868,68],[872,65.5],[876,69],[880,62],[885,68],[890,67],[895,69],[900,66],[905,70],[910,68],[915,65],[920,69],[925,66.5],[930,68.5],[935,66],[940,69.5],[945,66.5],[950,68.5],[955,67],[960,69],[965,67],[970,68],[975,69.5],[980,67.5],[985,69.5],[990,70.5],[995,68.5],[1000,69.5],[1005,66],[1010,68.5],[1015,64.5],[1020,69],[1025,66.5],[1030,57.5],[1035,67.5],[1040,69.5],[1045,66],[1050,69],[1055,64.5],[1060,67.5],[1065,61],[1070,68.5],[1075,65],[1080,68],[1085,64.5],[1090,66.5],[1095,61.5],[1100,66],[1105,68],[1110,69],[1115,65.5],[1120,66.5],[1125,62],[1130,68.5],[1135,69.5],[1140,66.5],[1145,68.5],[1150,67],[1155,69],[1160,65.5],[1165,68.5],[1170,67],[1175,69],[1180,65],[1185,68],[1190,66],[1195,68.5],[1200,66.5],[1205,68.5],[1210,65.5],[1215,68],[1220,64.5],[1225,67],[1230,69.5],[1235,68],[1240,63],[1245,68],[1250,66],[1255,69],[1260,70],[1265,67],[1270,64],[1274,61],[1278,57.5],[1281,61],[1284,57.5],[1288,66],[1292,68.5],[1296,67],[1300,69.5],[1305,66.5],[1310,68.5],[1315,65.5],[1320,69],[1325,66],[1330,68],[1335,63.5],[1340,69],[1345,67.5],[1350,69.5],[1355,65],[1360,68.5],[1365,67],[1370,69.5],[1375,68],[1380,66],[1385,69],[1390,67],[1395,64],[1398,60],[1402,45],[1406,34],[1409,32],[1412,30.5],[1415,45],[1418,60],[1422,67],[1426,69.5],[1430,67.5],[1435,69],[1440,66],[1445,68.5],[1450,67],[1455,69.5],[1460,68],[1465,70.3],[1470,67],[1475,69],[1480,66.5],[1485,68.5],[1490,70.5],[1495,67],[1500,69],[1505,65.5],[1510,68],[1515,67],[1520,69],[1525,65.5],[1530,68.5],[1535,66.5],[1540,69],[1545,66],[1550,70],[1555,69.5],[1560,66.5],[1565,69],[1570,67.5],[1573,62],[1576,47],[1579,70],[1582,68]];
const hOutPre = [[0,36.5],[4,50],[8,60],[12,66.5],[16,68],[20,69],[25,68],[30,67],[35,65],[40,66.5],[45,67.5],[50,68.5],[55,67.5],[60,68],[70,68.5],[80,67.5],[90,68.5],[100,68],[110,68.5],[120,67.5],[130,68.5],[140,68],[150,66.5],[160,67.5],[170,67],[180,67.5],[190,68],[200,67.5],[210,68.5],[220,68],[230,68.5],[240,68],[250,68.5],[260,68],[270,68.5],[280,68],[290,67],[300,68.5],[310,67.5],[320,68],[330,68.5],[340,68],[350,67.5],[360,68.5],[370,68],[380,67],[390,67.5],[400,67],[410,68],[420,67.5],[430,68],[440,67],[450,68],[460,67.5],[470,67],[474,65],[479,30],[483,32],[487,50],[490,62],[494,68.5],[500,68],[510,68.5],[520,67.5],[530,68.5],[540,68],[550,68.5],[560,68],[570,67.5],[580,68.5],[590,68],[600,68],[610,67.5],[620,68],[630,68.5],[640,67.5],[650,68.5],[660,68],[668,67.5],[672,55],[675,35],[678,55],[681,66],[686,68],[695,68.5],[705,68],[715,68.5],[725,68],[735,68.5],[745,68],[755,68.5],[765,68],[775,68.5],[785,68],[795,68.5],[805,68],[815,67.5],[825,68.5],[835,68],[840,60],[845,52],[850,49.5],[855,49],[859,48.5],[862,60],[866,68],[875,68],[885,68.5],[895,67],[905,68.5],[915,67.5],[925,68],[935,67],[945,68.5],[955,67.5],[965,68],[975,67],[985,68],[995,68.5],[1005,67.5],[1015,67],[1025,67.3],[1035,67],[1045,66.8],[1055,67.3],[1065,66.5],[1075,67],[1085,65.5],[1095,66.5],[1105,67],[1115,68.5],[1125,68],[1135,68.5],[1145,68],[1155,68.5],[1165,67.5],[1175,68.5],[1185,68],[1195,67.5],[1205,68.5],[1215,67.5],[1225,68],[1235,67.5],[1245,66.5],[1252,65.5],[1258,68],[1263,67],[1268,64.5],[1272,61.5],[1278,62.5],[1284,63.5],[1290,65],[1297,67],[1305,68.5],[1315,68],[1325,67.5],[1335,68.5],[1345,68],[1355,68.5],[1365,68],[1375,67.5],[1385,68.5],[1395,67.5],[1402,66.5],[1408,64.5],[1412,64],[1418,68.5],[1425,68],[1435,67.5],[1445,68.5],[1455,68],[1460,68.5],[1463,64],[1470,63.5],[1477,63],[1482,62.5],[1486,66],[1490,68.5],[1500,68],[1510,67.5],[1520,68.5],[1530,67.5],[1540,68.5],[1550,68],[1560,68.5],[1570,67.5],[1582,68]];

const outYData = [aOutY, bOutY, cOutY, dOutY, eOutY, fOutY, gOutY, hOutY];
const outPreData = [aOutPre, bOutPre, cOutPre, dOutPre, eOutPre, fOutPre, gOutPre, hOutPre];
const xTicksList = [xTicksA, xTicksB, xTicksC, xTicksD, xTicksE, xTicksF, xTicksG, xTicksH];
const yTicksList = [yTicks5, yTicks10, yTicks5, yTicks5, yTicks5, yTicks10, yTicks5, yTicks10];
const xRanges = [[-9.85, 206.85], [-19.75, 414.75], [-29.6, 621.6], [-39.5, 829.5], [-49.5, 1039.5], [-59.4, 1247.4], [-70, 1458], [-79, 1661]];
const yRanges = [[28.1, 72.2], [22.5, 73.1], [28.5, 73.0], [28.9, 73.3], [28.9, 72.55], [22.4, 73.4], [29.5, 72.67], [22.6, 72.8]];

// ---------------- layout ----------------
const colLeft = [54, 554];
const rowTop = [27, 456, 885, 1311];
const rowHeight = [302, 302, 303, 301];
const plotWidth = 408;
const titleY = [15.7, 443, 873, 1298];
const captionY = [393, 821, 1248, 1673];
const captionLetterX = [157, 689, 143, 676, 145, 690, 173, 669];
const captionTextX = [197, 741, 182, 725, 185, 731, 218, 712];

const FONT = "'DejaVu Sans', sans-serif";
const CAP_FONT = "'Liberation Sans', Arial, Helvetica, sans-serif";
const BLUE = "#0a0aff";
const RED = "#ff0a0a";

const plainNumber = (v: number) => String(v);

function buildOption() {
  const grid: any[] = [];
  const xAxis: any[] = [];
  const yAxis: any[] = [];
  const series: any[] = [];
  const legend: any[] = [];
  const graphic: any[] = [];

  for (let i = 0; i < 8; i++) {
    const col = i % 2;
    const row = Math.floor(i / 2);
    const left = colLeft[col];
    const top = rowTop[row];
    const height = rowHeight[row];
    grid.push({
      left,
      top,
      width: plotWidth,
      height,
      show: true,
      borderColor: "#3c3c3c",
      borderWidth: 1,
      backgroundColor: "#ffffff",
      containLabel: false,
    });
    xAxis.push({
      type: "value",
      gridIndex: i,
      min: xRanges[i][0],
      max: xRanges[i][1],
      name: xAxisName,
      nameLocation: "middle",
      nameGap: 25,
      nameTextStyle: { fontSize: 14, color: "#111", fontFamily: FONT },
      axisLine: { show: false },
      axisTick: {
        show: true,
        length: 4,
        customValues: xTicksList[i],
        lineStyle: { color: "#333" },
      },
      axisLabel: {
        customValues: xTicksList[i],
        formatter: plainNumber,
        fontSize: 12,
        color: "#222",
        margin: 7,
        fontFamily: FONT,
      },
      splitLine: { show: true, lineStyle: { color: "#cccccc", width: 1 } },
    });
    yAxis.push({
      type: "value",
      gridIndex: i,
      min: yRanges[i][0],
      max: yRanges[i][1],
      name: yAxisName,
      nameLocation: "middle",
      nameGap: 30,
      nameTextStyle: { fontSize: 14, color: "#111", fontFamily: FONT },
      axisLine: { show: false },
      axisTick: {
        show: true,
        length: 4,
        customValues: yTicksList[i],
        lineStyle: { color: "#333" },
      },
      axisLabel: {
        customValues: yTicksList[i],
        formatter: plainNumber,
        fontSize: 12,
        color: "#222",
        margin: 6,
        fontFamily: FONT,
      },
      splitLine: { show: true, lineStyle: { color: "#cccccc", width: 1 } },
    });
    series.push({
      name: seriesNames[0],
      type: "line",
      xAxisIndex: i,
      yAxisIndex: i,
      data: outYData[i],
      showSymbol: false,
      symbol: "none",
      silent: true,
      lineStyle: { color: BLUE, width: 1.6 },
      itemStyle: { color: BLUE },
      z: 2,
    });
    series.push({
      name: seriesNames[1],
      type: "line",
      xAxisIndex: i,
      yAxisIndex: i,
      data: outPreData[i],
      showSymbol: false,
      symbol: "none",
      silent: true,
      lineStyle: { color: RED, width: 1.6 },
      itemStyle: { color: RED },
      z: 3,
    });
    const boxRight = left + plotWidth - 6;
    const boxBottom = top + height - 6;
    legend.push({
      data: seriesNames,
      orient: "vertical",
      right: 973 - boxRight,
      bottom: 1688 - boxBottom,
      icon: "rect",
      itemWidth: 24,
      itemHeight: 2,
      itemGap: 3,
      padding: [4, 8, 4, 4],
      backgroundColor: "rgba(255,255,255,0.85)",
      borderColor: "#cccccc",
      borderWidth: 1,
      borderRadius: 3,
      selectedMode: false,
      textStyle: { fontSize: 12, color: "#333", fontFamily: FONT },
      z: 10,
    });
    graphic.push({
      type: "text",
      x: left + plotWidth / 2,
      y: titleY[row],
      style: {
        text: titles[i],
        fontSize: 13,
        fontFamily: FONT,
        fill: "#111",
        align: "center",
        verticalAlign: "middle",
        textAlign: "center",
        textVerticalAlign: "middle",
      },
    });
    graphic.push({
      type: "text",
      x: captionLetterX[i],
      y: captionY[row],
      style: {
        text: captionLetters[i],
        fontSize: 23,
        fontWeight: "bold",
        fontFamily: CAP_FONT,
        fill: "#111",
        align: "left",
        verticalAlign: "middle",
        textAlign: "left",
        textVerticalAlign: "middle",
      },
    });
    graphic.push({
      type: "text",
      x: captionTextX[i],
      y: captionY[row] + 1,
      style: {
        text: captionTexts[i],
        fontSize: 18,
        fontFamily: CAP_FONT,
        fill: "#111",
        align: "left",
        verticalAlign: "middle",
        textAlign: "left",
        textVerticalAlign: "middle",
      },
    });
  }

  return {
    animation: false,
    backgroundColor: "#ffffff",
    grid,
    xAxis,
    yAxis,
    series,
    legend,
    graphic,
  };
}

export default function App() {
  const ref = useRef<HTMLDivElement>(null);
  useEffect(() => {
    if (!ref.current) return;
    const chart = echarts.init(ref.current, undefined, { renderer: "svg" });
    chart.setOption(buildOption());
    return () => chart.dispose();
  }, []);
  return (
    <div
      ref={ref}
      style={{ position: "absolute", left: 0, top: 0, width: 973, height: 1688 }}
    />
  );
}
